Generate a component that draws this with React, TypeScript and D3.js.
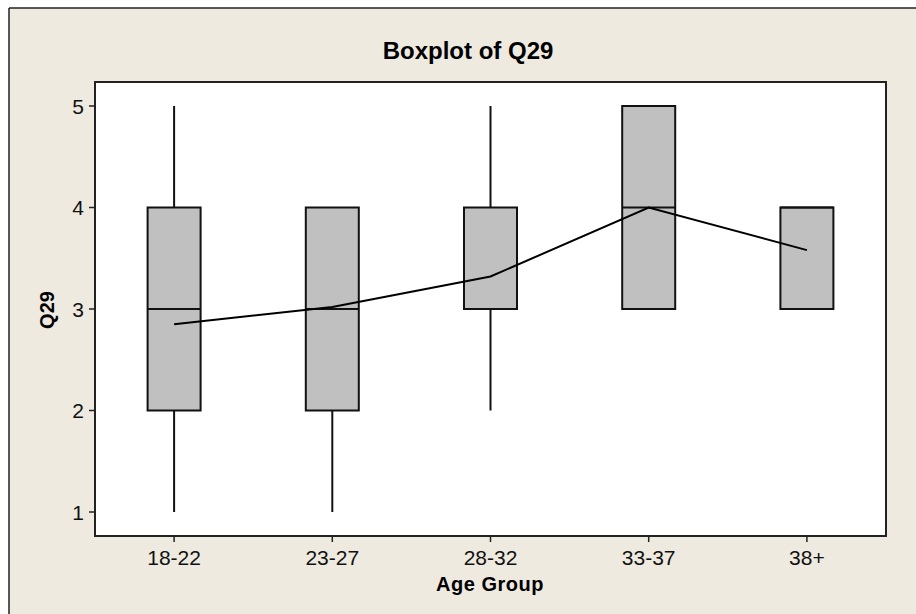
import React from 'react';
import * as d3 from 'd3';

// Age groups and five-number summaries
const categories = ['18-22', '23-27', '28-32', '33-37', '38+'];
const whiskerLow = [1, 1, 2, 3, 3];
const q1 = [2, 2, 3, 3, 3];
const median = [3, 3, 3, 4, 4];
const q3 = [4, 4, 4, 5, 4];
const whiskerHigh = [5, 4, 5, 5, 4];
const means = [2.85, 3.02, 3.32, 4.0, 3.58];
const yTicks = [1, 2, 3, 4, 5];

const width = 916;
const height = 614;
const plot = { left: 95, right: 886, top: 82, bottom: 536 };
const font = '"Liberation Sans", Arial, sans-serif';

const App = () => {
  // x: one slot per age group, y: Q29 score
  const x = d3
    .scalePoint<string>()
    .domain(categories)
    .range([plot.left, plot.right])
    .padding(0.5);

  const y = d3.scaleLinear().domain([1, 5]).range([512, 106]);

  const boxW = 53;

  const meanLine = d3
    .line<number>()
    .x((d, i) => x(categories[i]) as number)
    .y(d => y(d));

  return (
    <svg
      width={width}
      height={height}
      style={{ position: 'absolute', left: 0, top: 0 }}
      fontFamily={font}
    >
      <rect x={0} y={0} width={width} height={height} fill="#ffffff" />
      {/* beige frame, border only on top/left (runs off the image) */}
      <rect x={9} y={8} width={width} height={height} fill="#EEEAE0" />
      <line x1={9} y1={8} x2={width} y2={8} stroke="#222" strokeWidth={1.5} />
      <line x1={9} y1={8} x2={9} y2={height} stroke="#222" strokeWidth={1.5} />

      <text
        x={468}
        y={59}
        textAnchor="middle"
        fontSize={24}
        fontWeight="bold"
        fill="#000"
      >
        Boxplot of Q29
      </text>

      {/* plot area */}
      <rect
        x={plot.left}
        y={plot.top}
        width={plot.right - plot.left}
        height={plot.bottom - plot.top}
        fill="#ffffff"
        stroke="#222"
        strokeWidth={2}
      />

      {/* y axis ticks */}
      {yTicks.map(t => (
        <g key={t}>
          <line
            x1={plot.left - 6}
            x2={plot.left}
            y1={y(t)}
            y2={y(t)}
            stroke="#222"
            strokeWidth={1.5}
          />
          <text
            x={plot.left - 11}
            y={y(t)}
            dy="0.36em"
            textAnchor="end"
            fontSize={21}
            fill="#111"
          >
            {t}
          </text>
        </g>
      ))}

      {/* x axis ticks */}
      {categories.map(c => (
        <g key={c}>
          <line
            x1={x(c)}
            x2={x(c)}
            y1={plot.bottom}
            y2={plot.bottom + 6}
            stroke="#222"
            strokeWidth={1.5}
          />
          <text
            x={x(c)}
            y={565}
            textAnchor="middle"
            fontSize={21}
            fill="#111"
          >
            {c}
          </text>
        </g>
      ))}

      {/* boxes and whiskers */}
      {categories.map((c, i) => {
        const cx = x(c) as number;
        return (
          <g key={'box' + c}>
            {whiskerLow[i] < q1[i] && (
              <line
                x1={cx}
                x2={cx}
                y1={y(whiskerLow[i])}
                y2={y(q1[i])}
                stroke="#111"
                strokeWidth={2}
              />
            )}
            {whiskerHigh[i] > q3[i] && (
              <line
                x1={cx}
                x2={cx}
                y1={y(whiskerHigh[i])}
                y2={y(q3[i])}
                stroke="#111"
                strokeWidth={2}
              />
            )}
            <rect
              x={cx - boxW / 2}
              y={y(q3[i])}
              width={boxW}
              height={y(q1[i]) - y(q3[i])}
              fill="#C0C0C0"
              stroke="#111"
              strokeWidth={2}
            />
            <line
              x1={cx - boxW / 2}
              x2={cx + boxW / 2}
              y1={y(median[i])}
              y2={y(median[i])}
              stroke="#111"
              strokeWidth={2}
            />
          </g>
        );
      })}

      {/* mean connect line */}
      <path d={meanLine(means) || ''} fill="none" stroke="#000" strokeWidth={2} />

      {/* axis titles */}
      <text
        x={490}
        y={591}
        textAnchor="middle"
        fontSize={20}
        fontWeight="bold"
        letterSpacing={0.5}
        fill="#000"
      >
        Age Group
      </text>
      <text
        transform={`translate(54, 310) rotate(-90)`}
        textAnchor="middle"
        fontSize={20}
        fontWeight="bold"
        fill="#000"
      >
        Q29
      </text>
    </svg>
  );
};

export default App;
